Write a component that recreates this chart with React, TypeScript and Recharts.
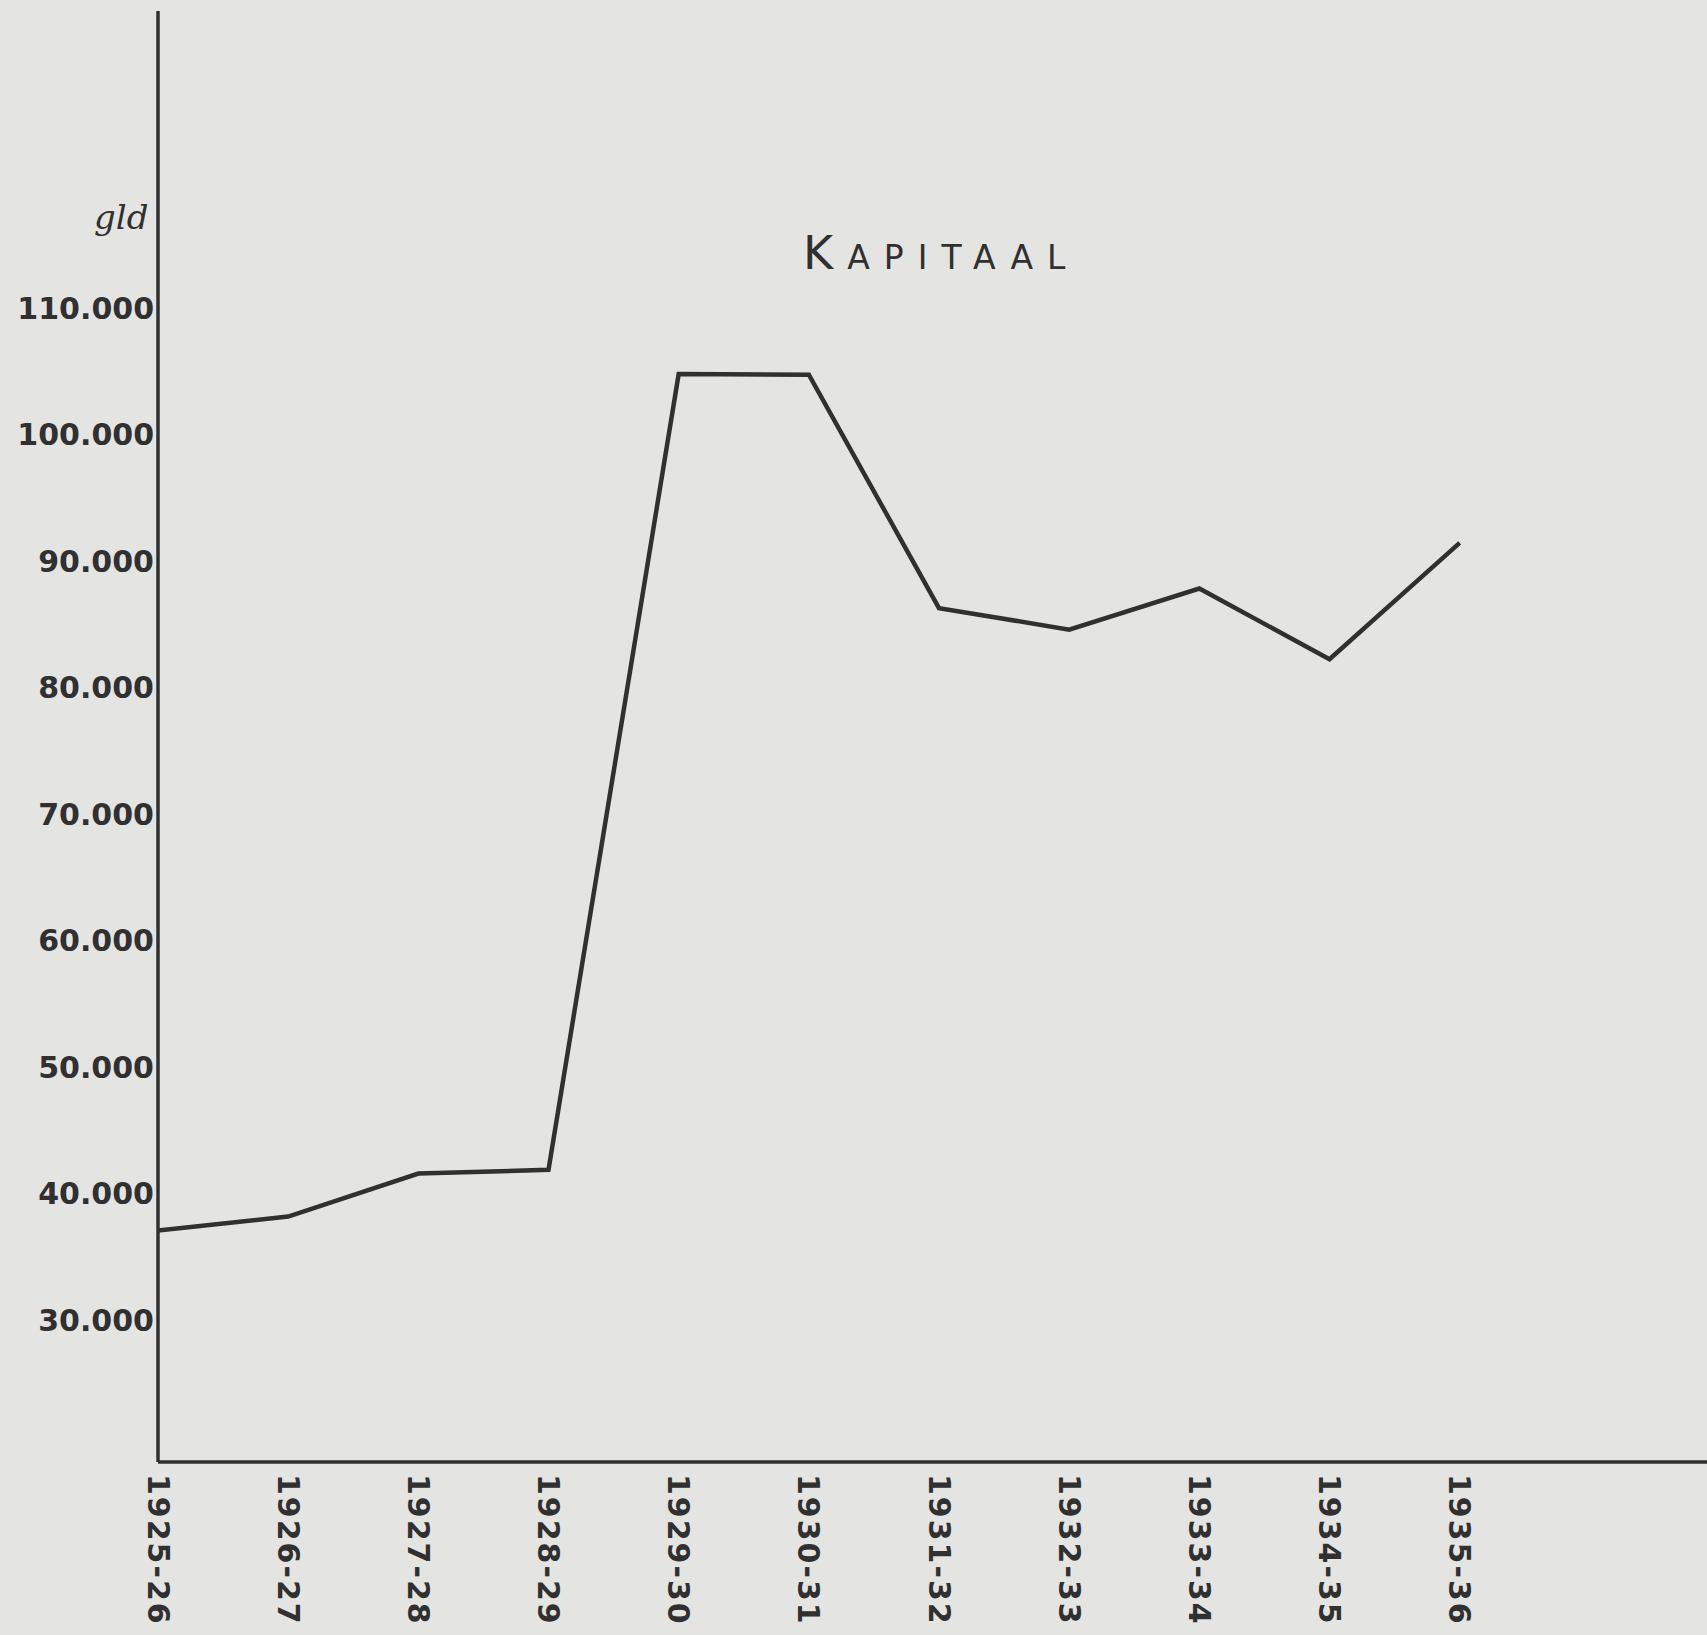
import React from 'react';
import { LineChart, Line, XAxis, YAxis } from 'recharts';

// season labels along the x axis
const seasons = [
  '1925-26', '1926-27', '1927-28', '1928-29', '1929-30', '1930-31',
  '1931-32', '1932-33', '1933-34', '1934-35', '1935-36',
];

// kapitaal in guilders
const kapitaal = [37100, 38200, 41600, 41900, 104800, 104750, 86300, 84600, 87850, 82260, 91460];

const yTicks = [30000, 40000, 50000, 60000, 70000, 80000, 90000, 100000, 110000];

const W = 1707;
const H = 1635;
const ink = '#303030';
const paper = '#e4e4e2';

const data = seasons.map((season, i) => ({ i, season, kapitaal: kapitaal[i] }));

const fmtGld = (v: number) => `${Math.floor(v / 1000)}.000`;

const SeasonTick = (props: any) => {
  const { x, y, payload } = props;
  return (
    <text
      transform={`translate(${x},${y + 4}) rotate(90)`}
      textAnchor="start"
      dominantBaseline="central"
      fontFamily="DejaVu Sans"
      fontWeight="bold"
      fontSize={30}
      letterSpacing={2}
      fill={ink}
    >
      {seasons[payload.value]}
    </text>
  );
};

const App: React.FC = () => {
  return (
    <div style={{ position: 'relative', width: W, height: H, background: paper, overflow: 'hidden' }}>
      <style>{'body { margin: 0; }'}</style>
      <LineChart
        width={W}
        height={H}
        data={data}
        margin={{ top: 11, right: 0, bottom: 0, left: 0 }}
      >
        <XAxis
          type="number"
          dataKey="i"
          domain={[0, 11.9]}
          allowDataOverflow
          ticks={seasons.map((_, i) => i)}
          interval={0}
          height={173}
          tickLine={false}
          tick={<SeasonTick />}
          axisLine={{ stroke: ink, strokeWidth: 3.5 }}
        />
        <YAxis
          type="number"
          domain={[18800, 133500]}
          allowDataOverflow
          ticks={yTicks}
          interval={0}
          width={158}
          tickLine={false}
          tickSize={2}
          tickMargin={2}
          tickFormatter={fmtGld}
          tick={{ fill: ink, fontSize: 30, fontWeight: 'bold', fontFamily: 'DejaVu Sans' }}
          axisLine={{ stroke: ink, strokeWidth: 3.5 }}
        />
        <Line
          type="linear"
          dataKey="kapitaal"
          stroke={ink}
          strokeWidth={4.5}
          dot={false}
          activeDot={false}
          isAnimationActive={false}
        />
      </LineChart>
      <div
        style={{
          position: 'absolute',
          left: 803,
          top: 230,
          fontFamily: 'DejaVu Sans',
          color: ink,
          letterSpacing: 14,
          whiteSpace: 'nowrap',
          lineHeight: 1,
        }}
      >
        <span style={{ fontSize: 46 }}>K</span>
        <span style={{ fontSize: 33 }}>APITAAL</span>
      </div>
      <div
        style={{
          position: 'absolute',
          left: 94,
          top: 200,
          fontFamily: 'DejaVu Serif',
          fontStyle: 'italic',
          fontSize: 34,
          color: ink,
          lineHeight: 1,
        }}
      >
        gld
      </div>
    </div>
  );
};

export default App;
